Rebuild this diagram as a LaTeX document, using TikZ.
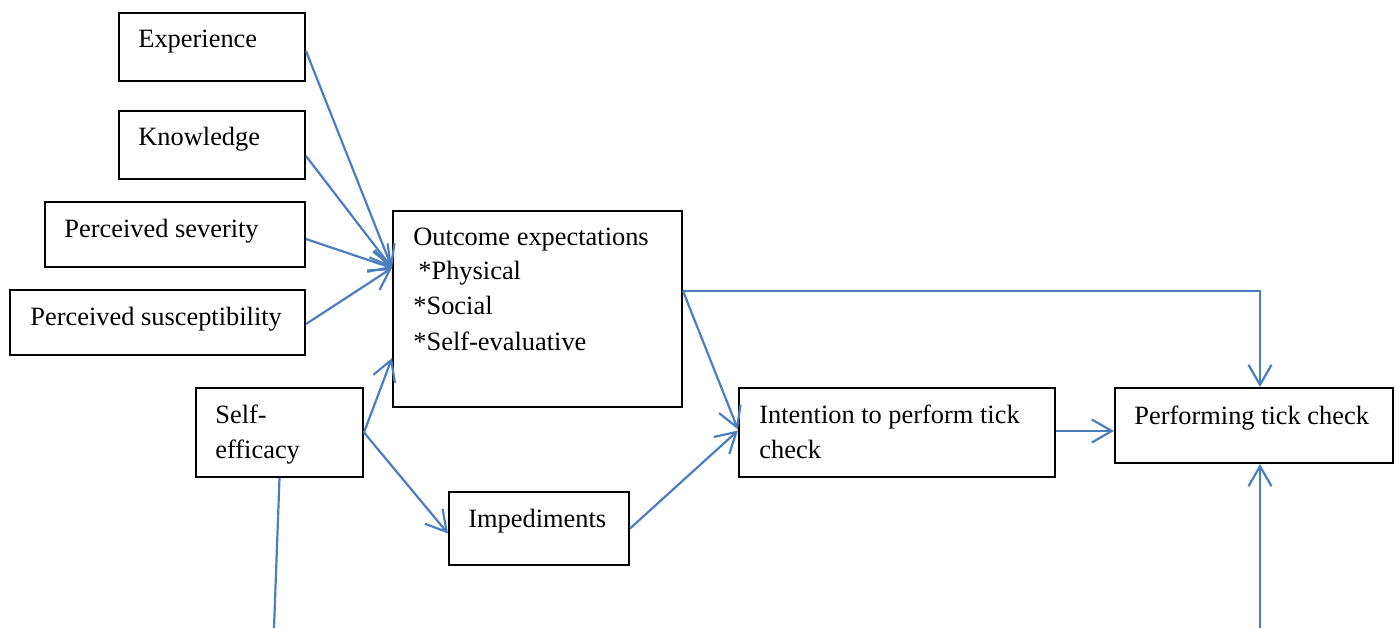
\documentclass[tikz,border=0pt]{standalone}
\usepackage{fontspec}
\setmainfont{Liberation Serif}
\usetikzlibrary{arrows.meta}
\definecolor{linkblue}{HTML}{4A7EBF}
\begin{document}
\begin{tikzpicture}[x=0.5pt,y=-0.5pt,
  box/.style={draw=black,line width=1pt,inner sep=0pt,anchor=north west},
  lbl/.style={inner sep=0pt,anchor=base west,align=left,
    font=\fontsize{13.2}{17.5}\selectfont},
  link/.style={draw=linkblue,line width=1.1pt},
  arr/.style={link,-{Straight Barb[length=10pt,width=11.5pt,line width=1.1pt]}}]
\useasboundingbox (0,0) rectangle (1397,628);
\clip (0,0) rectangle (1397,628);

% boxes: corner at (x,y), size in px units
\node[box,minimum width=93pt,minimum height=34pt]  (exp) at (118,12) {};
\node[box,minimum width=93pt,minimum height=34pt]  (kn)  at (118,110) {};
\node[box,minimum width=130pt,minimum height=32.5pt] (sev) at (44,201) {};
\node[box,minimum width=147.5pt,minimum height=32.5pt] (sus) at (9,289) {};
\node[box,minimum width=144.5pt,minimum height=98pt] (oe) at (392,210) {};
\node[box,minimum width=83.5pt,minimum height=44.5pt] (se) at (195,387) {};
\node[box,minimum width=90pt,minimum height=36.5pt] (imp) at (448,491) {};
\node[box,minimum width=158pt,minimum height=44.5pt] (int) at (738,387) {};
\node[box,minimum width=139pt,minimum height=37.5pt] (perf) at (1114,387) {};

% labels
\node[lbl] (exp-t) at (138,47) {Experience};
\node[lbl] (kn-t) at (138,145) {Knowledge};
\node[lbl] (sev-t) at (64,237) {Perceived severity};
\node[lbl] (sus-t) at (30,325) {Perceived susceptibility};
\node[lbl] (oe-t1) at (413,245) {Outcome expectations};
\node[lbl] (oe-t2) at (418,279) {*Physical};
\node[lbl] (oe-t3) at (413,314) {*Social};
\node[lbl] (oe-t4) at (413,350) {*Self-evaluative};
\node[lbl] (se-t1) at (215,423) {Self-};
\node[lbl] (se-t2) at (215,458) {efficacy};
\node[lbl] (imp-t) at (468,527) {Impediments};
\node[lbl] (int-t1) at (759,423) {Intention to perform tick};
\node[lbl] (int-t2) at (759,458) {check};
\node[lbl] (perf-t) at (1134,424) {Performing tick check};

% free ends at the lower edge
\coordinate (seout) at (274,628);
\coordinate (perfin) at (1260,628);

% connectors
\draw[arr] ([shift={(0,4)}]exp.east) -- ([shift={(0,-41)}]oe.west);
\draw[arr] ([shift={(0,11)}]kn.east) -- ([shift={(0,-41)}]oe.west);
\draw[arr] ([shift={(0,4.5)}]sev.east) -- ([shift={(0,-41)}]oe.west);
\draw[arr] ([shift={(0,1.5)}]sus.east) -- ([shift={(0,-41)}]oe.west);
\draw[arr] (se.east) -- ([shift={(0,49)}]oe.west);
\draw[arr] (se.east) -- ([shift={(0,5)}]imp.west);
\draw[link] (se.south) -- (seout);
\draw[arr] ([shift={(0,-18)}]oe.east) -- ([shift={(0,-3)}]int.west);
\draw[arr] (imp.east) -- ([shift={(0,-2)}]int.west);
\draw[arr] ([shift={(0,-1.5)}]int.east) -- ([shift={(0,-1.5)}]int.east -| perf.west);
\draw[arr] ([shift={(0,-18)}]oe.east) -| (perfin |- perf.north);
\draw[arr] (perfin) -- (perfin |- perf.south);
\end{tikzpicture}
\end{document}
